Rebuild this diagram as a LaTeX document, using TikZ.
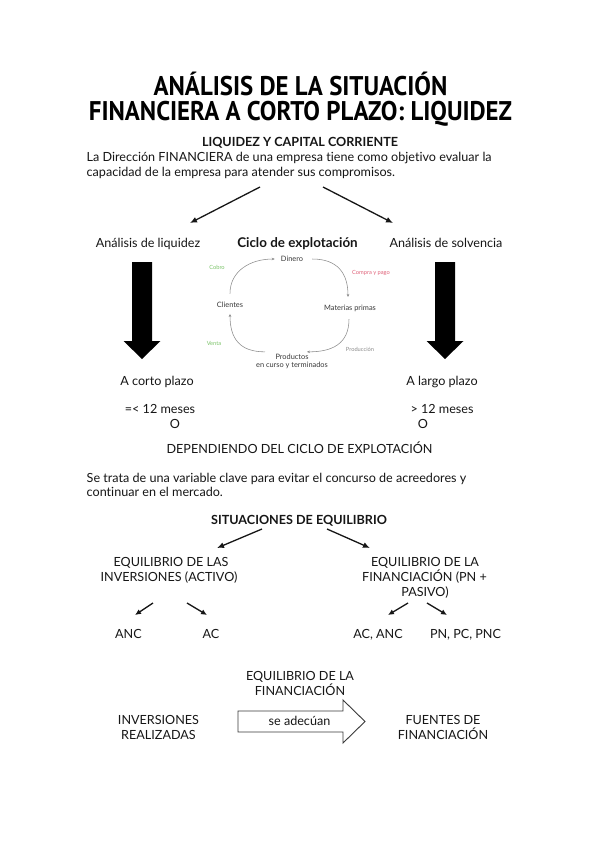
\documentclass[tikz,border=0pt]{standalone}
\usepackage{fontspec}
\usepackage{graphicx}
\setmainfont{Lato}[Ligatures=NoCommon]
\newfontfamily\titlefont{PT Sans}
\usetikzlibrary{arrows.meta}
\definecolor{ink}{HTML}{161616}
\definecolor{cycgray}{HTML}{8C8C8C}
\definecolor{cycgreen}{HTML}{7CC46A}
\definecolor{cycred}{HTML}{E0637A}
\newcommand\mybody{\fontsize{12.6}{15}\selectfont}
\newcommand\mytiny{\fontsize{7.4}{8.2}\selectfont}
\newcommand\mymicro{\fontsize{5.7}{6.5}\selectfont}
\newcommand\mytitle[1]{\scalebox{0.92}[1]{\titlefont\bfseries\fontsize{27}{30}\selectfont #1}}
\begin{document}
\begin{tikzpicture}[x=1pt,y=-1pt,
  txt/.style={inner sep=0pt, anchor=base, text=ink, font=\mybody},
  hd/.style={txt, font=\mybody\bfseries},
  ttl/.style={inner sep=0pt, anchor=base, text=black},
  arr/.style={draw=ink, line width=1.3pt, -{Latex[length=7pt,width=6pt]}},
  sarr/.style={draw=ink, line width=1.3pt, -{Latex[length=6pt,width=5.5pt]}},
  cyc/.style={draw=cycgray, line width=0.55pt, -{Stealth[length=3pt,width=2.6pt]}},
  cnode/.style={inner sep=0pt, text=ink!85, font=\mytiny, align=center},
  clab/.style={inner sep=0pt, font=\mymicro},
  block/.style={fill=black},
  outline/.style={draw=ink!85, line width=0.9pt, fill=white}]
\useasboundingbox[fill=white] (0,0) rectangle (599,848);

% title
\node[ttl] (t1) at (300.5,96) {\mytitle{ANÁLISIS DE LA SITUACIÓN}};
\node[ttl] (t2) at (300.5,120.5) {\mytitle{FINANCIERA A CORTO PLAZO: LIQUIDEZ}};

% section 1
\node[hd] (h1) at (300,146.5) {LIQUIDEZ Y CAPITAL CORRIENTE};
\node[txt, anchor=base west] (p1) at (86.5,161.5) {La Dirección FINANCIERA de una empresa tiene como objetivo evaluar la};
\node[txt, anchor=base west] (p2) at (86.5,176) {capacidad de la empresa para atender sus compromisos.};

\coordinate (a1s) at (260,187);
\coordinate (a1e) at (190,223);
\coordinate (a2s) at (323,187);
\coordinate (a2e) at (393,223);
\draw[arr] (a1s) -- (a1e);
\draw[arr] (a2s) -- (a2e);

\node[txt] (liq) at (148,247.5) {Análisis de liquidez};
\node[hd, font=\fontsize{13.4}{15}\selectfont\bfseries] (ciclo) at (297.5,247.5) {Ciclo de explotación};
\node[txt] (solv) at (446,247.5) {Análisis de solvencia};

% block arrows
\fill[block] (132,262) -- (152,262) -- (152,341) -- (160.5,341) -- (142,359) -- (123.5,341) -- (132,341) -- cycle;
\fill[block] (435,262) -- (455,262) -- (455,341) -- (463.5,341) -- (445,359) -- (426.5,341) -- (435,341) -- cycle;

% cycle diagram
\node[cnode] (dinero) at (292,259) {Dinero};
\node[cnode] (materias) at (350,308) {Materias primas};
\node[cnode] (productos) at (292,361.5) {Productos\\en curso y terminados};
\node[cnode] (clientes) at (230,305) {Clientes};
\node[clab, text=cycgreen] (cobro) at (217,267) {Cobro};
\node[clab, text=cycred] (compra) at (371,273) {Compra y pago};
\node[clab, text=cycgreen] (venta) at (214,343) {Venta};
\node[clab, text=cycgray] (produccion) at (360,349) {Producción};
\draw[cyc] ([yshift=8.5pt]clientes.north) .. controls +(0,-23) and +(-24,0) .. ([xshift=-6pt]dinero.west);
\draw[cyc] ([xshift=9pt]dinero.east) .. controls +(25,0) and +(0,-24) .. ([xshift=-2pt,yshift=7.5pt]materias.north);
\draw[cyc] ([xshift=-1pt,yshift=-7.5pt]materias.south) .. controls +(0,25) and +(25,0) .. ([xshift=15pt,yshift=2pt]productos.north);
\draw[cyc] ([xshift=-27pt,yshift=2pt]productos.north) .. controls +(-25,0) and +(0,25) .. ([yshift=-6pt]clientes.south);

\node[txt] (corto) at (157,385.5) {A corto plazo};
\node[txt] (largo) at (442,385.5) {A largo plazo};
\node[txt] (m1) at (160,413.5) {=< 12 meses};
\node[txt] (o1) at (175,428.5) {O};
\node[txt] (m2) at (442,413.5) {> 12 meses};
\node[txt] (o2) at (423,428.5) {O};

\node[txt] (dep) at (299.5,453) {DEPENDIENDO DEL CICLO DE EXPLOTACIÓN};
\node[txt, anchor=base west] (s1) at (86.5,482) {Se trata de una variable clave para evitar el concurso de acreedores y};
\node[txt, anchor=base west] (s2) at (86.5,496.5) {continuar en el mercado.};

% equilibrium
\node[hd] (sit) at (299,524.5) {SITUACIONES DE EQUILIBRIO};
\coordinate (b1s) at (262,529);
\coordinate (b1e) at (217,548);
\coordinate (b2s) at (327,529);
\coordinate (b2e) at (370,548);
\draw[arr] (b1s) -- (b1e);
\draw[arr] (b2s) -- (b2e);

\node[txt] (ei1) at (171,566.5) {EQUILIBRIO DE LAS};
\node[txt] (ei2) at (169,581.5) {INVERSIONES (ACTIVO)};
\node[txt] (ef1) at (425,566.5) {EQUILIBRIO DE LA};
\node[txt] (ef2) at (424.5,581.5) {FINANCIACIÓN (PN +};
\node[txt] (ef3) at (425,596.5) {PASIVO)};

\coordinate (c1s) at (153,603);
\coordinate (c1e) at (135,615);
\coordinate (c2s) at (187,603);
\coordinate (c2e) at (207,615);
\coordinate (c3s) at (408,603);
\coordinate (c3e) at (388,615);
\coordinate (c4s) at (427,603);
\coordinate (c4e) at (447,615);
\draw[sarr] (c1s) -- (c1e);
\draw[sarr] (c2s) -- (c2e);
\draw[sarr] (c3s) -- (c3e);
\draw[sarr] (c4s) -- (c4e);

\node[txt] (anc) at (128.5,638) {ANC};
\node[txt] (ac) at (211,638) {AC};
\node[txt] (acanc) at (378,638) {AC, ANC};
\node[txt] (pn) at (465.5,638) {PN, PC, PNC};

% bottom
\node[txt] (eqf1) at (300,680) {EQUILIBRIO DE LA};
\node[txt] (eqf2) at (300,695) {FINANCIACIÓN};
\node[txt] (inv1) at (158.5,724.5) {INVERSIONES};
\node[txt] (inv2) at (158.5,739) {REALIZADAS};
\node[txt] (fu1) at (443,724.5) {FUENTES DE};
\node[txt] (fu2) at (443,739) {FINANCIACIÓN};
\draw[outline] (238,711) -- (343,711) -- (343,700) -- (365,721.5) -- (343,743) -- (343,732) -- (238,732) -- cycle;
\node[txt] (adec) at (299.5,725) {se adecúan};
\end{tikzpicture}
\end{document}
